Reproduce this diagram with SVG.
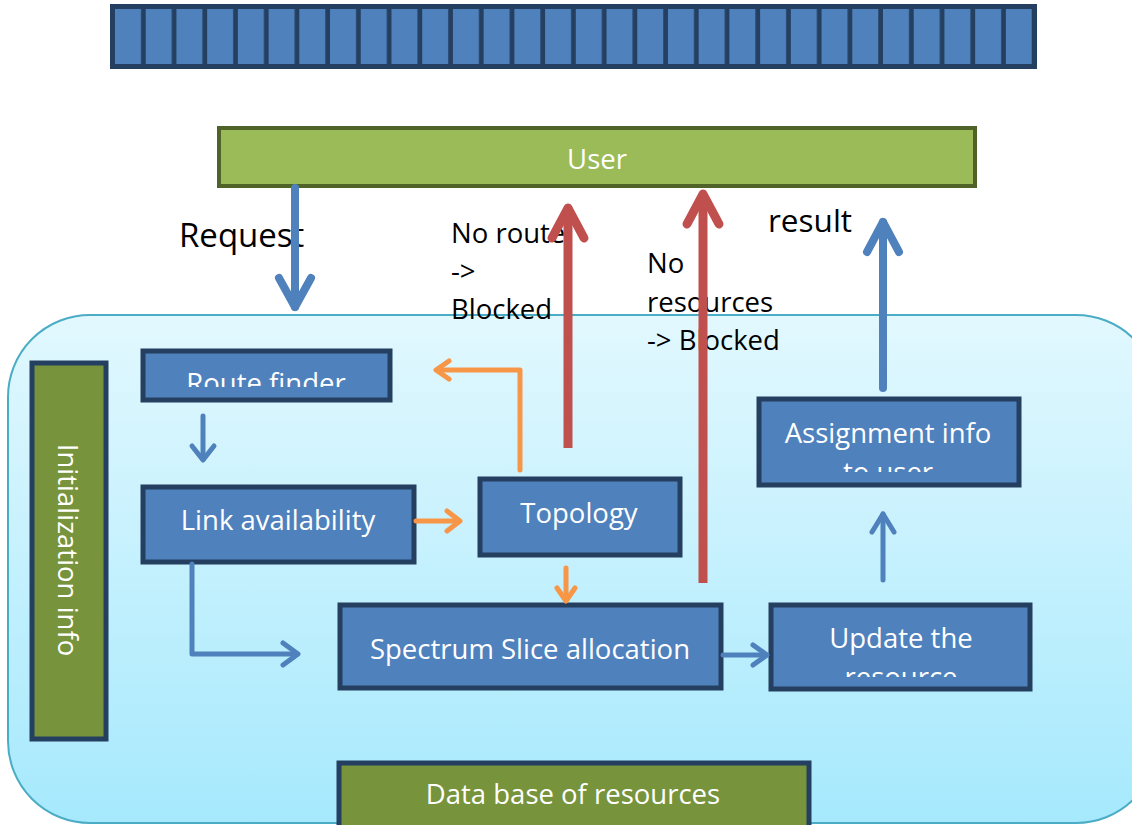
<svg xmlns="http://www.w3.org/2000/svg" width="1132" height="825" viewBox="0 0 1132 825">
<style>
.box{fill:#4F81BD;stroke:#243F60;stroke-width:5}
.gbox{fill:#77933C;stroke:#243F60;stroke-width:5}
.bt{font-family:"Open Sans","Liberation Sans",sans-serif;font-size:27.5px;fill:#FFFFFF;text-anchor:middle}
.lbl{font-family:"Open Sans","Liberation Sans",sans-serif;fill:#000000}
.ab{fill:none;stroke:#4F81BD;stroke-linecap:round;stroke-linejoin:round}
.ar{fill:none;stroke:#C0504D;stroke-width:9;stroke-linejoin:round}
.ao{fill:none;stroke:#F79646;stroke-width:5;stroke-linecap:round;stroke-linejoin:round}
</style>
<defs>
<linearGradient id="bg" x1="0" y1="0" x2="0" y2="1">
<stop offset="0" stop-color="#E2F8FE"/>
<stop offset="1" stop-color="#A6E9FD"/>
</linearGradient>
<pattern id="cells" x="115" y="9" width="30.72" height="55" patternUnits="userSpaceOnUse">
<rect x="0" y="0" width="26" height="55" fill="#4F81BD"/>
</pattern>
<clipPath id="cRoute"><rect x="141" y="349" width="250" height="38"/></clipPath>
<clipPath id="cLink"><rect x="141" y="486" width="275" height="65"/></clipPath>
<clipPath id="cTopo"><rect x="478" y="477" width="204" height="67"/></clipPath>
<clipPath id="cAssign"><rect x="757" y="397" width="264" height="75"/></clipPath>
<clipPath id="cUpdate"><rect x="769" y="603" width="263" height="74"/></clipPath>
</defs>

<g id="slots">
<rect x="110" y="4" width="927" height="65" fill="#243F60"/>
<rect x="115" y="9" width="917" height="55" fill="url(#cells)"/>
</g>

<g id="container">
<rect x="8" y="315" width="1150" height="508" rx="82" ry="82" fill="url(#bg)" stroke="#4BACC6" stroke-width="2"/>
</g>

<g id="user">
<rect x="219" y="128" width="756" height="58" fill="#9BBB59" stroke="#4F6228" stroke-width="4"/>
<text class="bt" x="597" y="169">User</text>
</g>

<g id="init">
<rect class="gbox" x="32" y="363" width="74" height="376"/>
<text class="bt" transform="translate(58,550) rotate(90)">Initialization info</text>
</g>

<g id="route">
<rect class="box" x="143" y="351" width="247" height="49"/>
<text class="bt" x="266" y="393" clip-path="url(#cRoute)">Route finder</text>
</g>

<g id="link">
<rect class="box" x="143" y="487" width="271" height="75"/>
<text class="bt" x="278" y="530" clip-path="url(#cLink)">Link availability</text>
</g>

<g id="topology">
<rect class="box" x="480" y="479" width="200" height="76"/>
<text class="bt" x="579" y="523" clip-path="url(#cTopo)">Topology</text>
</g>

<g id="assign">
<rect class="box" x="759" y="399" width="260" height="86"/>
<text class="bt" x="888" y="443" clip-path="url(#cAssign)">Assignment info<tspan x="888" dy="39">to user</tspan></text>
</g>

<g id="spectrum">
<rect class="box" x="340" y="605" width="381" height="83"/>
<text class="bt" x="530" y="659">Spectrum Slice allocation</text>
</g>

<g id="update">
<rect class="box" x="771" y="605" width="259" height="84"/>
<text class="bt" x="901" y="648" clip-path="url(#cUpdate)">Update the<tspan x="901" dy="39">resource</tspan></text>
</g>

<g id="database">
<rect class="gbox" x="339" y="763" width="470" height="70"/>
<text class="bt" x="573" y="804">Data base of resources</text>
</g>

<g id="labels">
<text class="lbl" x="179" y="247" font-size="33">Request</text>
<text class="lbl" x="451" y="243" font-size="27.5">No route</text>
<text class="lbl" x="451" y="281" font-size="27.5">-&gt;</text>
<text class="lbl" x="451" y="319" font-size="27.5">Blocked</text>
<text class="lbl" x="647" y="273" font-size="27.5">No</text>
<text class="lbl" x="647" y="312" font-size="27.5">resources</text>
<text class="lbl" x="647" y="350" font-size="27.5">-&gt; Blocked</text>
<text class="lbl" x="768" y="232" font-size="31.5">result</text>
</g>

<g id="connectors">
<line class="ab" x1="295" y1="188" x2="295" y2="307" stroke-width="8" stroke-linecap="butt"/>
<polyline class="ab" points="279,278 295,307 311,278" stroke-width="8"/>
<line class="ab" x1="883" y1="388" x2="883" y2="222" stroke-width="8" stroke-linecap="butt"/>
<polyline class="ab" points="867,252 883,222 899,252" stroke-width="8"/>
<line class="ar" x1="568" y1="448" x2="568" y2="208"/>
<polyline class="ar" points="552,238 568,208 584,238" stroke-linecap="round"/>
<line class="ar" x1="703" y1="583" x2="703" y2="194"/>
<polyline class="ar" points="687,224 703,194 719,224" stroke-linecap="round"/>
<line class="ab" x1="203" y1="416" x2="203" y2="459" stroke-width="5"/>
<polyline class="ab" points="192,446 203,460 214,446" stroke-width="5"/>
<polyline class="ab" points="192,564 192,654 297,654" stroke-width="5" stroke-linecap="butt"/>
<polyline class="ab" points="283,643 298,654 283,665" stroke-width="5"/>
<line class="ab" x1="723" y1="655" x2="766" y2="655" stroke-width="5" stroke-linecap="butt"/>
<polyline class="ab" points="753,645 767,655 753,665" stroke-width="5"/>
<line class="ab" x1="883" y1="580" x2="883" y2="514" stroke-width="5" stroke-linecap="butt"/>
<polyline class="ab" points="872,532 883,514 894,532" stroke-width="5"/>
<line class="ao" x1="416" y1="521" x2="459" y2="521"/>
<polyline class="ao" points="447,511 460,521 447,531"/>
<polyline class="ao" points="520,470 520,370 437,370"/>
<polyline class="ao" points="449,361 436,370 449,379"/>
<line class="ao" x1="566" y1="568" x2="566" y2="600"/>
<polyline class="ao" points="557,588 566,601 575,588"/>
</g>
</svg>
